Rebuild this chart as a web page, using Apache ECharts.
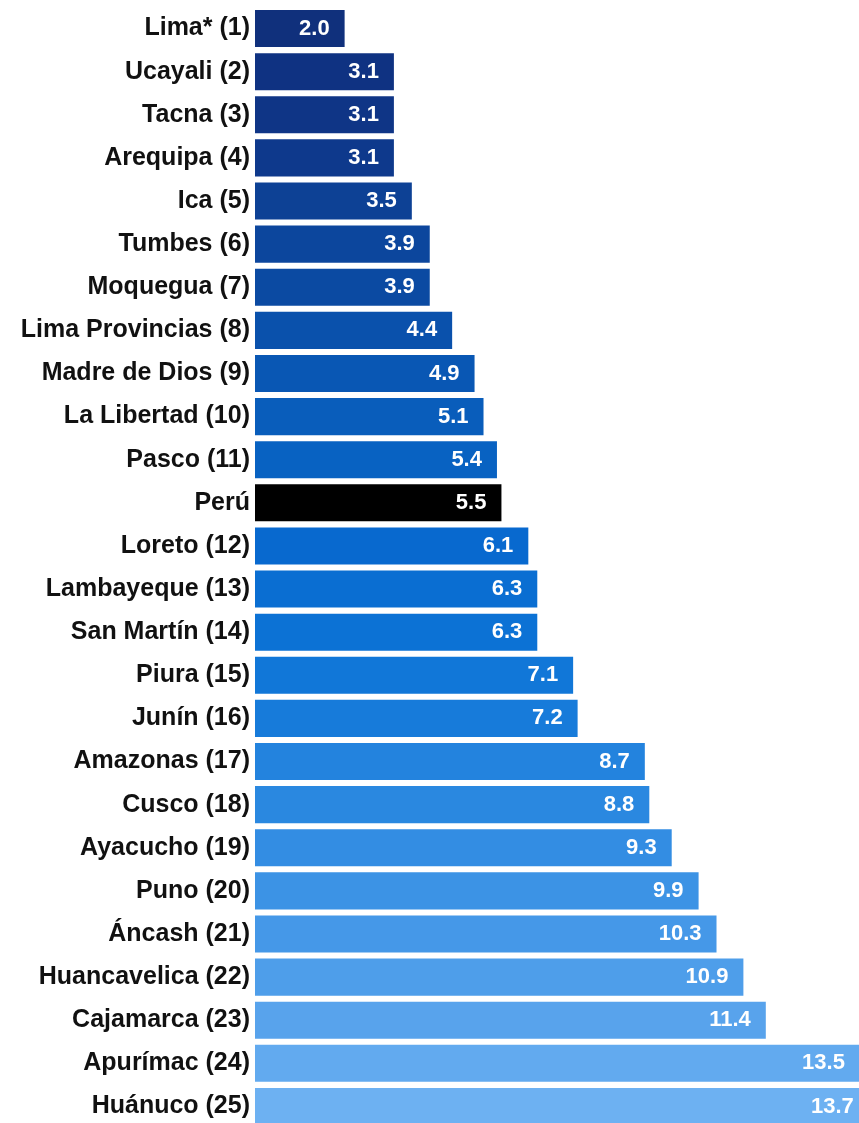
<!DOCTYPE html>
<html>
<head>
<meta charset="utf-8">
<script src="https://cdn.jsdelivr.net/npm/echarts@6/dist/echarts.min.js"></script>
<style>
html,body{margin:0;padding:0;background:#fff;overflow:hidden;}
#chart{width:859px;height:1130px;}
</style>
</head>
<body>
<div id="chart"></div>
<script>
const categories = ["Lima* (1)","Ucayali (2)","Tacna (3)","Arequipa (4)","Ica (5)","Tumbes (6)","Moquegua (7)","Lima Provincias (8)","Madre de Dios (9)","La Libertad (10)","Pasco (11)","Perú","Loreto (12)","Lambayeque (13)","San Martín (14)","Piura (15)","Junín (16)","Amazonas (17)","Cusco (18)","Ayacucho (19)","Puno (20)","Áncash (21)","Huancavelica (22)","Cajamarca (23)","Apurímac (24)","Huánuco (25)"];
const values = [2.0,3.1,3.1,3.1,3.5,3.9,3.9,4.4,4.9,5.1,5.4,5.5,6.1,6.3,6.3,7.1,7.2,8.7,8.8,9.3,9.9,10.3,10.9,11.4,13.5,13.7];
const barColors = ["#10307c","#0f3282","#0f3586","#0e398c","#0d4195","#0c469d","#0b4aa2","#0a51ac","#0957b4","#095dbb","#0862c2","#000000","#0869cf","#0a6ed2","#0c72d5","#1177d8","#177bda","#2383de","#2a88e0","#338de3","#3c93e5","#4598e8","#4e9eea","#58a3ec","#62aaef","#6db1f2"];

const FONT = "'Liberation Sans', Arial, sans-serif";
const chart = echarts.init(document.getElementById('chart'));
chart.setOption({
  animation: false,
  grid: {left: 255, right: 0, top: 7, bottom: 2, containLabel: false},
  xAxis: {type: 'value', min: 0, max: 13.48, show: false},
  yAxis: {
    type: 'category', inverse: true, data: categories,
    axisLine: {show: false}, axisTick: {show: false}, splitLine: {show: false},
    axisLabel: {margin: 5, color: '#111', fontFamily: FONT, fontWeight: 'bold', fontSize: 25}
  },
  series: [{
    type: 'bar',
    data: values.map((v, i) => ({value: v, itemStyle: {color: barColors[i]}})),
    barCategoryGap: '14%',
    clip: false,
    label: {
      show: true, position: 'insideRight', distance: 15,
      color: '#fff', fontFamily: FONT, fontWeight: 'bold', fontSize: 22,
      formatter: p => p.value.toFixed(1)
    }
  }]
});
</script>
</body>
</html>
